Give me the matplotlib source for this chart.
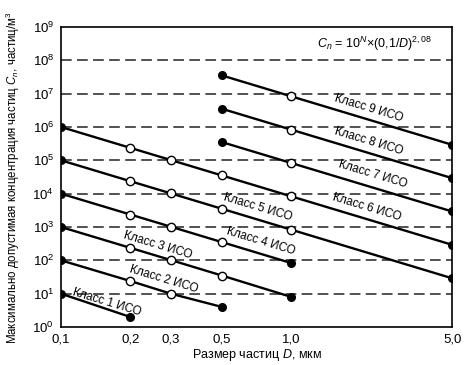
import numpy as np
import matplotlib
matplotlib.use("Agg")
import matplotlib.pyplot as plt

plt.rcParams["font.family"] = ["Liberation Sans", "DejaVu Sans"]
plt.rcParams["mathtext.fontset"] = "custom"
plt.rcParams["mathtext.rm"] = "Liberation Sans"
plt.rcParams["mathtext.it"] = "Liberation Sans:italic"

# particle sizes, um (ISO 14644-1 table)
sizes = [0.1, 0.2, 0.3, 0.5, 1.0, 5.0]

# concentrations per class, particles/m3 (None = not defined)
class_1 = [10, 2, None, None, None, None]
class_2 = [100, 24, 10, 4, None, None]
class_3 = [1000, 237, 102, 35, 8, None]
class_4 = [10000, 2370, 1020, 352, 83, None]
class_5 = [100000, 23700, 10200, 3520, 832, 29]
class_6 = [1000000, 237000, 102000, 35200, 8320, 293]
class_7 = [None, None, None, 352000, 83200, 2930]
class_8 = [None, None, None, 3520000, 832000, 29300]
class_9 = [None, None, None, 35200000, 8320000, 293000]
classes = [class_1, class_2, class_3, class_4, class_5, class_6, class_7, class_8, class_9]

# label anchor (D, C) for each class caption
label_pos = [(0.158, 5.6), (0.278, 27.5), (0.264, 288), (0.74, 380), (0.718, 3980),
             (2.12, 3980), (2.25, 39000), (2.16, 380000), (2.18, 3700000)]

x_ticks = [0.1, 0.2, 0.3, 0.5, 1.0, 5.0]
x_tick_labels = ["0,1", "0,2", "0,3", "0,5", "1,0", "5,0"]
y_exps = list(range(10))

fig = plt.figure(figsize=(4.7, 3.65), dpi=100)
ax = fig.add_axes([0.130, 0.104, 0.832, 0.822])
ax.set_xscale("log")
ax.set_yscale("log")
ax.set_xlim(0.1, 5.0)
ax.set_ylim(1, 1e9)

for e in y_exps[1:-1]:
    ax.axhline(10.0 ** e, color="#222222", lw=1.1, dashes=(7, 3.5), zorder=1)

for vals in classes:
    xs = [s for s, v in zip(sizes, vals) if v is not None]
    ys = [v for v in vals if v is not None]
    ax.plot(xs, ys, color="black", lw=1.7, zorder=2)
    ax.plot([xs[0], xs[-1]], [ys[0], ys[-1]], "o", color="black", ms=5.5, zorder=3)
    if len(xs) > 2:
        ax.plot(xs[1:-1], ys[1:-1], "o", mfc="white", mec="black", mew=1.0, ms=6.0, zorder=3)

# rotation of a line with slope -2.08 in display space
p0 = ax.transData.transform((0.1, 1e6))
p1 = ax.transData.transform((1.0, 1e6 * 10 ** -2.08))
angle = np.degrees(np.arctan2(p1[1] - p0[1], p1[0] - p0[0]))

for n, (lx, ly) in enumerate(label_pos, start=1):
    ax.text(lx, ly, f"Класс {n} ИСО", fontsize=8.5, rotation=angle,
            rotation_mode="anchor", ha="center", va="center", zorder=4)

ax.text(0.949, 0.943, r"$C_n$ = 10$^N$×(0,1/$D$)$^{2,08}$", transform=ax.transAxes,
        ha="right", va="center", fontsize=9)

ax.set_xticks(x_ticks)
ax.set_xticklabels(x_tick_labels)
ax.xaxis.set_minor_locator(matplotlib.ticker.NullLocator())
ax.set_yticks([10.0 ** e for e in y_exps])
ax.set_yticklabels([f"$10^{{{e}}}$" for e in y_exps])
ax.yaxis.set_minor_locator(matplotlib.ticker.NullLocator())
ax.tick_params(length=0, labelsize=9.5, pad=5)

ax.set_xlabel(r"Размер частиц $D$, мкм", fontsize=9)
ax.set_ylabel(r"Максимально допустимая концентрация частиц $C_n$, частиц/м$^3$", fontsize=8.3)
ax.xaxis.set_label_coords(0.5, -0.065)
ax.yaxis.set_label_coords(-0.1, 0.497)

for sp in ax.spines.values():
    sp.set_linewidth(1.2)

fig.savefig("out.png", dpi=100)
